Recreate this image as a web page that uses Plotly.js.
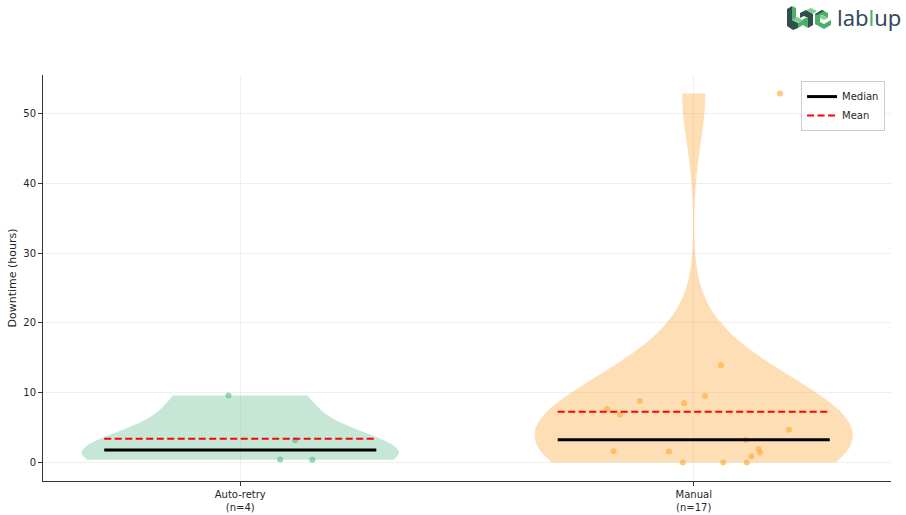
<!DOCTYPE html>
<html>
<head>
<meta charset="utf-8">
<script src="https://cdn.plot.ly/plotly-3.0.1.min.js"></script>
<style>html,body{margin:0;padding:0;background:#fff;}#chart{width:906px;height:515px;}</style>
</head>
<body>
<div id="chart"></div>
<script>
// ---- data ----
const categories = ['Auto-retry', 'Manual'];
const tickLabels = ['Auto-retry<br>(n=4)', 'Manual<br>(n=17)'];
const positions = [1, 2];
const autoRetry = [9.6, 3.2, 0.43, 0.39];
const autoRetryJitter = [-0.026, 0.121, 0.088, 0.159];
const manual = [13.94, 9.53, 8.81, 8.48, 7.66, 6.85, 4.70, 3.26, 1.62, 1.58, 1.96, 1.44, 0.91, 0.0, 0.0, 0.0, 52.87];
const manualJitter = [0.060, 0.025, -0.119, -0.021, -0.191, -0.163, 0.210, 0.115, -0.177, -0.055, 0.143, 0.146, 0.127, -0.024, 0.065, 0.117, 0.190];
const yTicks = [0, 10, 20, 30, 40, 50];

// ---- styles ----
const fills = ['rgba(101,190,144,0.37)', 'rgba(253,174,70,0.40)'];
const pointColors = ['rgba(95,185,140,0.62)', 'rgba(255,168,50,0.62)'];

function mean(a){ return a.reduce((s,v)=>s+v,0)/a.length; }
function median(a){ const s=[...a].sort((x,y)=>x-y); const n=s.length; return n%2 ? s[(n-1)/2] : (s[n/2-1]+s[n/2])/2; }
function scottBw(a){ const m=mean(a); const v=a.reduce((s,x)=>s+(x-m)*(x-m),0)/(a.length-1); return Math.sqrt(v)*Math.pow(a.length,-0.2); }

const groups = [autoRetry, manual];
const jitters = [autoRetryJitter, manualJitter];
const traces = [];

groups.forEach((g,i)=>{
  traces.push({
    type:'violin', x0: positions[i], y: g, name: categories[i],
    width: 0.7, scalemode:'width', spanmode:'hard', bandwidth: scottBw(g),
    points:false, box:{visible:false}, meanline:{visible:false},
    fillcolor: fills[i], line:{width:0, color: fills[i]}, opacity:1,
    showlegend:false, hoverinfo:'skip'
  });
});
groups.forEach((g,i)=>{
  traces.push({
    type:'scatter', mode:'markers', x: g.map((v,k)=>positions[i]+jitters[i][k]), y: g,
    marker:{size:6, color: pointColors[i]}, showlegend:false, hoverinfo:'skip'
  });
});
groups.forEach((g,i)=>{
  const md = median(g);
  traces.push({
    type:'scatter', mode:'lines', x:[positions[i]-0.3, positions[i]+0.3], y:[md, md],
    line:{color:'black', width:3}, name:'Median', showlegend: i===0, hoverinfo:'skip'
  });
});
groups.forEach((g,i)=>{
  const mn = mean(g);
  traces.push({
    type:'scatter', mode:'lines', x:[positions[i]-0.3, positions[i]+0.3], y:[mn, mn],
    line:{color:'red', width:2, dash:'7px,3.5px'}, name:'Mean', showlegend: i===0, hoverinfo:'skip'
  });
});

// simple logo glyph (decorative)
const logoSvg = '<svg xmlns="http://www.w3.org/2000/svg" width="47" height="25" viewBox="0 0 47 25">'+
 '<polygon points="1,4 6,1 6,15 12,18 12,23 7,25 1,21" fill="#2f4f4f"/>'+
 '<polygon points="6,1 10,3 10,15 6,15" fill="#4caf6a"/>'+
 '<polygon points="6,15 12,18 17,15 11,12" fill="#7fd08f"/>'+
 '<polygon points="12,18 17,15 17,20 12,23" fill="#4caf6a"/>'+
 '<polygon points="14,8 20,5 27,9 27,20 22,23 22,13 18,11 14,13" fill="#2f4f4f"/>'+
 '<polygon points="17,14 22,12 22,23 17,20" fill="#4caf6a"/>'+
 '<polygon points="20,5 25,3 31,6 27,9" fill="#7fd08f"/>'+
 '<polygon points="29,9 36,5 42,8 42,13 36,10 34,11 34,17 38,19 45,15 45,20 38,24 29,19" fill="#4caf6a"/>'+
 '<polygon points="34,11 36,10 42,13 38,15 34,13" fill="#7fd08f"/>'+
 '<polygon points="29,9 36,5 38,6 31,10" fill="#2f4f4f"/>'+
 '</svg>';

const layout = {
  width:906, height:515,
  margin:{l:43, r:15, t:75, b:34},
  paper_bgcolor:'white', plot_bgcolor:'white',
  font:{family:'DejaVu Sans, sans-serif', size:10, color:'#262626'},
  violinmode:'overlay',
  xaxis:{
    type:'linear', range:[0.565, 2.435], tickvals: positions, ticktext: tickLabels,
    showline:true, linecolor:'#333', linewidth:1, ticks:'outside', ticklen:4, tickcolor:'#333',
    showgrid:true, gridcolor:'#efefef', gridwidth:1, zeroline:false, tickfont:{size:10}
  },
  yaxis:{
    range:[-2.64, 55.51], tickvals: yTicks, ticktext: yTicks.map(String),
    showline:true, linecolor:'#333', linewidth:1, ticks:'outside', ticklen:4, tickcolor:'#333',
    showgrid:true, gridcolor:'#efefef', gridwidth:1, zeroline:false, tickfont:{size:10},
    title:{text:'Downtime (hours)', font:{size:11}, standoff:4}
  },
  legend:{
    x:0.993, y:0.985, xanchor:'right', yanchor:'top',
    bgcolor:'white', bordercolor:'#cccccc', borderwidth:1,
    font:{size:10}, itemwidth:30, tracegroupgap:0
  },
  images:[{
    source:'data:image/svg+xml;charset=utf-8,'+encodeURIComponent(logoSvg),
    xref:'paper', yref:'paper', x:(786-43)/848, y:(481-5)/406, sizex:47/848, sizey:25/406,
    xanchor:'left', yanchor:'top', sizing:'stretch', layer:'above'
  }],
  annotations:[{
    text:'lab<span style="color:#4caf6a">l</span>up', xref:'paper', yref:'paper',
    x:(835-43)/848, y:(481-17)/406, xanchor:'left', yanchor:'middle', showarrow:false,
    font:{family:'Noto Sans, sans-serif', size:22, color:'#34495e'}
  }]
};

Plotly.newPlot('chart', traces, layout, {displayModeBar:false, staticPlot:true});
</script>
</body>
</html>
